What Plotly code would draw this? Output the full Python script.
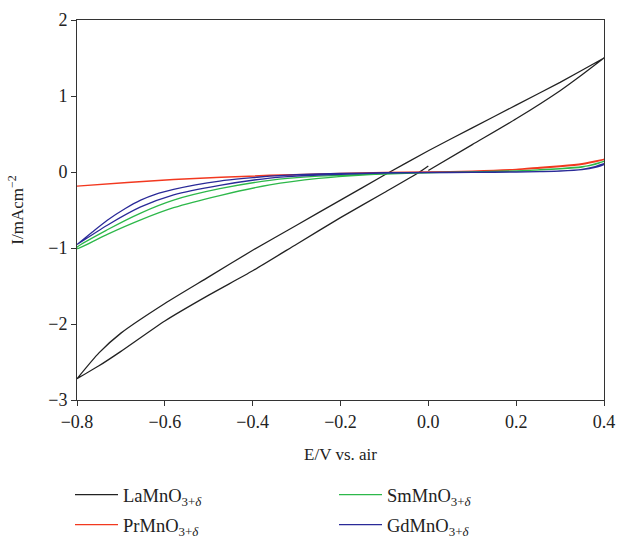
import plotly.graph_objects as go

# LaMnO3: sweep 0 -> 0.4 (lower branch), 0.4 -> -0.8 (upper branch), -0.8 -> 0 (lower branch)
la_e_fwd = [0.0, 0.1, 0.2, 0.3, 0.35, 0.4]
la_i_fwd = [0.02, 0.36, 0.70, 1.07, 1.28, 1.50]
la_e_back = [0.4, 0.3, 0.2, 0.1, 0.0, -0.1, -0.2, -0.3, -0.4, -0.5, -0.6, -0.7, -0.75, -0.8]
la_i_back = [1.50, 1.18, 0.88, 0.58, 0.28, -0.04, -0.37, -0.70, -1.03, -1.38, -1.73, -2.12, -2.38, -2.72]
la_e_ret = [-0.8, -0.75, -0.7, -0.6, -0.5, -0.4, -0.3, -0.2, -0.1, -0.02, 0.0]
la_i_ret = [-2.72, -2.55, -2.36, -1.96, -1.62, -1.30, -0.95, -0.60, -0.27, 0.0, 0.08]

# PrMnO3
pr_e_a = [0.0, 0.1, 0.2, 0.254, 0.3, 0.35, 0.4]
pr_i_a = [0.0, 0.012, 0.035, 0.06, 0.08, 0.11, 0.165]
pr_e_b = [0.4, 0.35, 0.3, 0.2, 0.1, 0.0, -0.1, -0.2, -0.361, -0.58, -0.8]
pr_i_b = [0.165, 0.10, 0.07, 0.03, 0.008, -0.003, -0.01, -0.022, -0.047, -0.10, -0.185]
pr_e_c = [-0.8, -0.58, -0.361, -0.2, -0.1, 0.0]
pr_i_c = [-0.185, -0.098, -0.043, -0.018, -0.006, 0.0]

# SmMnO3
sm_e_a = [0.0, 0.1, 0.2, 0.254, 0.3, 0.35, 0.38, 0.4]
sm_i_a = [-0.008, 0.0, 0.012, 0.03, 0.045, 0.07, 0.10, 0.14]
sm_e_b = [0.4, 0.35, 0.3, 0.2, 0.0, -0.15, -0.25, -0.361, -0.475, -0.58, -0.655, -0.731, -0.8]
sm_i_b = [0.14, 0.065, 0.04, 0.015, -0.01, -0.03, -0.055, -0.11, -0.22, -0.37, -0.54, -0.76, -0.99]
sm_e_c = [-0.8, -0.731, -0.655, -0.58, -0.475, -0.361, -0.25, -0.15, -0.05, 0.0]
sm_i_c = [-1.01, -0.82, -0.63, -0.47, -0.31, -0.17, -0.085, -0.04, -0.018, -0.012]

# GdMnO3
gd_e_a = [0.0, 0.1, 0.2, 0.254, 0.3, 0.35, 0.38, 0.4]
gd_i_a = [-0.008, -0.006, -0.002, 0.005, 0.012, 0.03, 0.06, 0.10]
gd_e_b = [0.4, 0.38, 0.35, 0.3, 0.2, 0.0, -0.1, -0.2, -0.3, -0.361, -0.42, -0.475, -0.53,
          -0.58, -0.62, -0.655, -0.69, -0.731, -0.765, -0.8]
gd_i_b = [0.11, 0.07, 0.035, 0.015, 0.002, -0.005, -0.01, -0.02, -0.035, -0.055, -0.085, -0.12, -0.17,
          -0.23, -0.29, -0.37, -0.48, -0.635, -0.79, -0.955]
gd_e_c = [-0.8, -0.731, -0.655, -0.58, -0.475, -0.361, -0.3, -0.2, -0.1, 0.0]
gd_i_c = [-0.955, -0.70, -0.46, -0.30, -0.175, -0.08, -0.055, -0.03, -0.015, -0.008]

names = ["LaMnO<sub>3+<i>δ</i></sub>", "PrMnO<sub>3+<i>δ</i></sub>",
         "SmMnO<sub>3+<i>δ</i></sub>", "GdMnO<sub>3+<i>δ</i></sub>"]
colors = ["#222222", "#f2381f", "#2db84a", "#2a2a98"]
legend_ids = ["legend", "legend2", "legend", "legend2"]   # row 1: La, Sm / row 2: Pr, Gd

series = [
    (la_e_fwd + la_e_back + la_e_ret, la_i_fwd + la_i_back + la_i_ret),
    (pr_e_a + pr_e_b + pr_e_c, pr_i_a + pr_i_b + pr_i_c),
    (sm_e_a + sm_e_b + sm_e_c, sm_i_a + sm_i_b + sm_i_c),
    (gd_e_a + gd_e_b + gd_e_c, gd_i_a + gd_i_b + gd_i_c),
]

fig = go.Figure()
for (e, i), name, col, lg in zip(series, names, colors, legend_ids):
    fig.add_trace(go.Scatter(x=e, y=i, mode="lines", name=name, legend=lg,
                             line=dict(color=col, width=1.3, shape="spline", smoothing=0.6)))

axis_style = dict(showline=True, linecolor="#333333", linewidth=1, mirror=True,
                  ticks="outside", ticklen=5, tickcolor="#333333", automargin=False,
                  showgrid=False, zeroline=False, tickfont=dict(size=18))

fig.update_xaxes(range=[-0.8, 0.4], dtick=0.2, tick0=-0.8, tickformat=".1f",
                 title=dict(text="E/V vs. air", standoff=17, font=dict(size=17)), **axis_style)
fig.update_yaxes(range=[-3, 2], dtick=1,
                 title=dict(text="I/mAcm<sup>−2</sup>", standoff=20, font=dict(size=17)),
                 **axis_style)

W, H = 619, 539
leg = dict(orientation="h", xref="container", yref="container", xanchor="left", yanchor="middle",
           x=70 / W, entrywidth=206, entrywidthmode="pixels", itemwidth=43,
           font=dict(size=18.5), bgcolor="rgba(0,0,0,0)")

fig.update_layout(
    width=W, height=H,
    margin=dict(l=77, r=15, t=20, b=139),
    paper_bgcolor="white", plot_bgcolor="white",
    font=dict(family="Liberation Serif, DejaVu Serif, serif", size=17, color="#222222"),
    showlegend=True,
    legend=dict(leg, y=1 - 495 / H),
    legend2=dict(leg, y=1 - 525 / H),
)

# drop the default 8px page margin so the figure fills the window exactly
fig.write_html("out.html", config={"displayModeBar": False},
               post_script="document.body.style.margin = '0';")
